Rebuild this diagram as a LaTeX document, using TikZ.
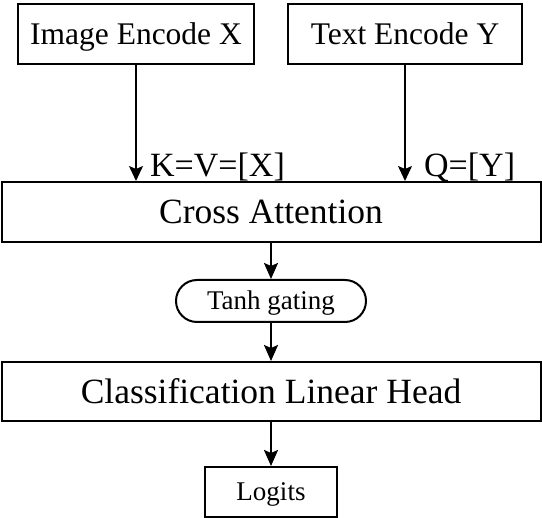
\documentclass[tikz,border=0pt]{standalone}
\usepackage{fontspec}
\setmainfont{Liberation Serif}
\usetikzlibrary{arrows.meta}
\begin{document}
\begin{tikzpicture}[x=1pt,y=-1pt,
  box/.style={draw,line width=2pt,inner sep=0pt,text depth=0pt},
  small/.style={font=\fontsize{27}{29}\selectfont,text height=17.8pt},
  medium/.style={font=\fontsize{31.5}{34}\selectfont,text height=20.8pt},
  large/.style={font=\fontsize{35.5}{38}\selectfont,text height=23.4pt},
  pill/.style={box,rounded corners=21pt},
  link/.style={line width=2pt,-{Stealth[length=16pt,width=14pt,inset=3pt]}},
  thinlink/.style={line width=1.5pt,-{Stealth[length=15pt,width=14pt,inset=3pt]}},
  lbl/.style={inner sep=0pt,font=\fontsize{34}{36}\selectfont}]
\useasboundingbox (0,0) rectangle (542,518);
\node[box,medium,minimum width=236pt,minimum height=60pt] (img) at (136,34) {Image Encode X};
\node[box,medium,minimum width=234pt,minimum height=60pt] (txt) at (405,34) {Text Encode Y};
\node[box,large,minimum width=539pt,minimum height=60pt] (ca) at (271,212) {Cross Attention};
\node[pill,small,minimum width=190pt,minimum height=42pt] (tanh) at (271,301) {Tanh gating};
\node[box,large,minimum width=539pt,minimum height=59pt] (clf) at (271,391.5) {Classification Linear Head};
\node[box,small,minimum width=132pt,minimum height=50pt] (out) at (271,492) {Logits};
\draw[thinlink] (img.south) -- (img.south |- ca.north);
\draw[thinlink] (txt.south) -- (txt.south |- ca.north);
\node[lbl,anchor=west] (kv) at (150,167) {K=V=[X]};
\node[lbl,anchor=west] (q) at (424,167) {Q=[Y]};
\draw[link] (ca) -- (tanh);
\draw[link] (tanh) -- (clf);
\draw[link] (clf) -- (out);
\end{tikzpicture}
\end{document}
